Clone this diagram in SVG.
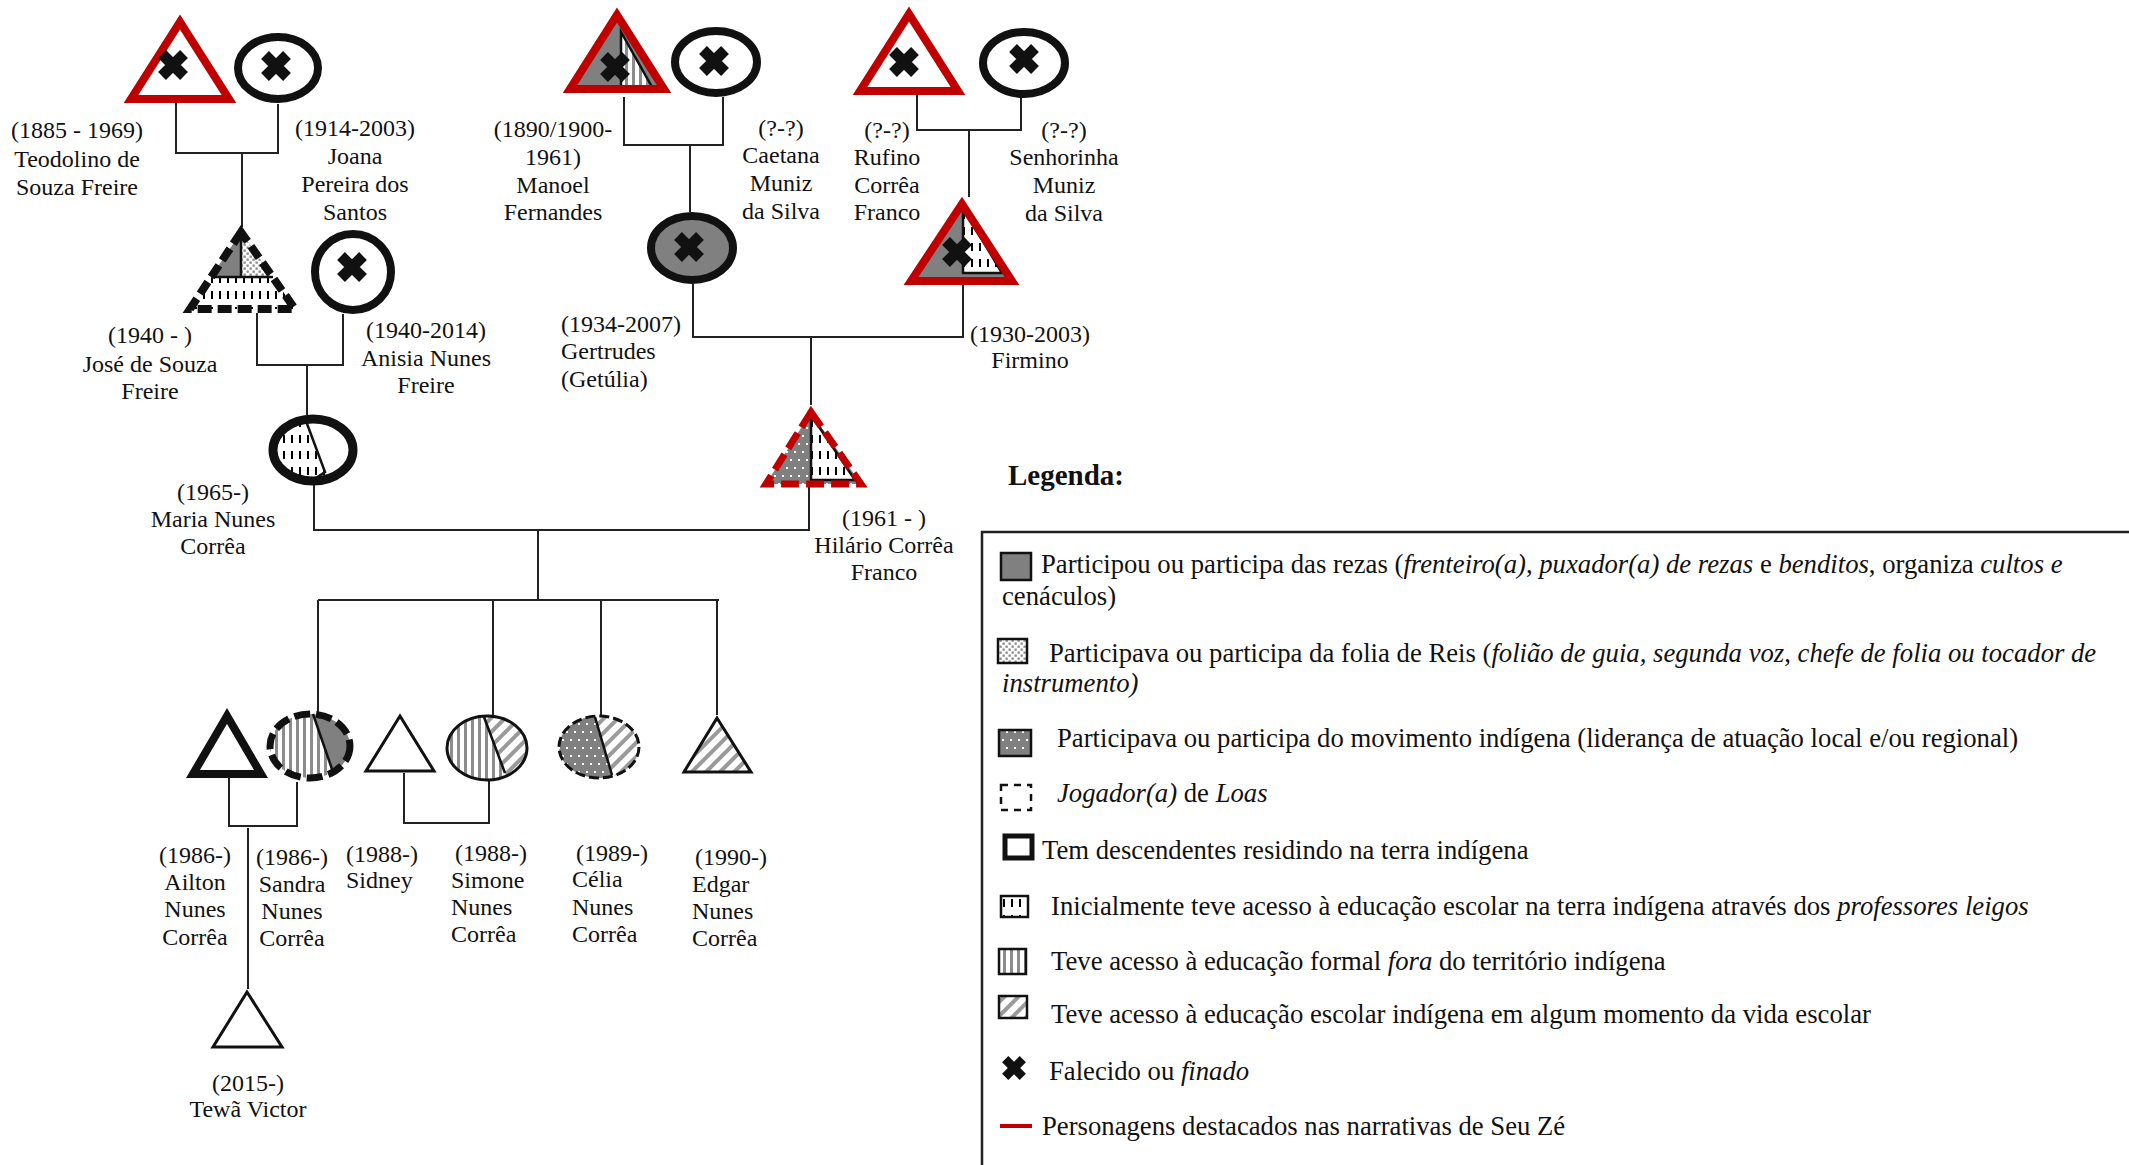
<svg xmlns="http://www.w3.org/2000/svg" width="2129" height="1165" viewBox="0 0 2129 1165">
<style>
.t{font-family:"Liberation Serif","Times New Roman",serif;font-size:24px;fill:#111}
.c{text-anchor:middle}
.lg{font-family:"Liberation Serif","Times New Roman",serif;font-size:26.7px;fill:#111}
.b{font-weight:bold;font-size:29px}
.i{font-style:italic}
.ln{fill:none;stroke:#222;stroke-width:2}
.red{stroke:#c00000;stroke-width:8;stroke-linejoin:miter}
.blk{stroke:#111;stroke-width:8}
.thin{stroke:#111;stroke-width:3}
.div{stroke:#111;stroke-width:2.5}
.sw{stroke:#111;stroke-width:2.5}
</style>
<defs>
<pattern id="pFolia" width="6" height="6" patternUnits="userSpaceOnUse"><rect width="6" height="6" fill="#fff"/><rect x="0.5" y="0.5" width="2.3" height="2.3" fill="#8a8a8a"/><rect x="3.5" y="3.5" width="2.3" height="2.3" fill="#8a8a8a"/></pattern>
<pattern id="pMov" width="8" height="16" patternUnits="userSpaceOnUse"><rect width="8" height="16" fill="#808080"/><rect x="2" y="3" width="2" height="2" fill="#fff"/><rect x="6" y="11" width="2" height="2" fill="#fff"/></pattern>
<pattern id="pLeig" width="8" height="16" patternUnits="userSpaceOnUse"><rect width="8" height="16" fill="#fff"/><rect x="3" y="3" width="2" height="8" fill="#000"/></pattern>
<pattern id="pFora" width="7" height="7" patternUnits="userSpaceOnUse"><rect width="7" height="7" fill="#fff"/><rect x="2" width="3" height="7" fill="#8c8c8c"/></pattern>
<pattern id="pDiag" width="10" height="10" patternUnits="userSpaceOnUse" patternTransform="rotate(45)"><rect width="10" height="10" fill="#fff"/><rect x="3" width="4" height="10" fill="#9a9a9a"/></pattern>
<path id="x" d="M-11,-11L11,11M11,-11L-11,11" stroke="#111" stroke-width="11" fill="none"/>
<clipPath id="cMaria"><ellipse cx="313" cy="450" rx="40" ry="31"/></clipPath>
<clipPath id="cSandra"><ellipse cx="310" cy="746" rx="40" ry="32"/></clipPath>
<clipPath id="cSimone"><ellipse cx="487" cy="748" rx="40" ry="32"/></clipPath>
<clipPath id="cCelia"><ellipse cx="599" cy="747" rx="40" ry="31"/></clipPath>
</defs>

<g id="connectors">
<path class="ln" d="M176,99V153H278V104"/>
<path class="ln" d="M242,153V227"/>
<path class="ln" d="M257,313V365H343V314"/>
<path class="ln" d="M307,365V415"/>
<path class="ln" d="M624,97V145H723V97"/>
<path class="ln" d="M690,145V212"/>
<path class="ln" d="M917,95V130H1021V98"/>
<path class="ln" d="M969,130V197"/>
<path class="ln" d="M693,284V337H963V275"/>
<path class="ln" d="M811,337V405"/>
<path class="ln" d="M314,485V530H809V487"/>
<path class="ln" d="M538,530V600"/>
<path class="ln" d="M318,600H719"/>
<path class="ln" d="M318,600V715M493,600V717M601,600V716M717,600V715"/>
<path class="ln" d="M229,778V826H297V782"/>
<path class="ln" d="M248,828V989"/>
<path class="ln" d="M404,773V823H489V780"/>
</g>

<g id="teodolino">
<polygon points="180,22 131,99 229,99" fill="#fff" class="red"/>
<use href="#x" x="173" y="65"/>
<text class="t c"><tspan x="77" y="138">(1885 - 1969)</tspan><tspan x="77" y="167">Teodolino de</tspan><tspan x="77" y="195">Souza Freire</tspan></text>
</g>
<g id="joana">
<ellipse cx="278" cy="68" rx="40" ry="31" fill="#fff" class="blk"/>
<use href="#x" x="276" y="66"/>
<text class="t c"><tspan x="355" y="136">(1914-2003)</tspan><tspan x="355" y="164">Joana</tspan><tspan x="355" y="192">Pereira dos</tspan><tspan x="355" y="220">Santos</tspan></text>
</g>
<g id="manoel">
<polygon points="617,15 570,89 664,89" fill="#808080"/>
<polygon points="621,32 621,87 652,87" fill="url(#pFora)" class="div"/>
<use href="#x" x="615" y="67"/>
<polygon points="617,15 570,89 664,89" fill="none" class="red"/>
<text class="t c"><tspan x="553" y="137">(1890/1900-</tspan><tspan x="553" y="165">1961)</tspan><tspan x="553" y="193">Manoel</tspan><tspan x="553" y="220">Fernandes</tspan></text>
</g>
<g id="caetana">
<ellipse cx="716" cy="62" rx="41" ry="31" fill="#fff" class="blk"/>
<use href="#x" x="714" y="61"/>
<text class="t c"><tspan x="781" y="136">(?-?)</tspan><tspan x="781" y="163">Caetana</tspan><tspan x="781" y="191">Muniz</tspan><tspan x="781" y="219">da Silva</tspan></text>
</g>
<g id="rufino">
<polygon points="909,14 860,91 958,91" fill="#fff" class="red"/>
<use href="#x" x="904" y="62"/>
<text class="t c"><tspan x="887" y="138">(?-?)</tspan><tspan x="887" y="165">Rufino</tspan><tspan x="887" y="193">Corrêa</tspan><tspan x="887" y="220">Franco</tspan></text>
</g>
<g id="senhorinha">
<ellipse cx="1024" cy="63" rx="41" ry="31" fill="#fff" class="blk"/>
<use href="#x" x="1024" y="59"/>
<text class="t c"><tspan x="1064" y="138">(?-?)</tspan><tspan x="1064" y="165">Senhorinha</tspan><tspan x="1064" y="193">Muniz</tspan><tspan x="1064" y="221">da Silva</tspan></text>
</g>
<g id="jose">
<polygon points="241,232 241,277 211,277" fill="#808080"/>
<polygon points="241,232 273,277 241,277" fill="url(#pFolia)"/>
<polygon points="211,277 273,277 295,309 190,309" fill="url(#pLeig)"/>
<path class="div" fill="none" d="M241,232V277M211,277H273"/>
<polygon points="241,232 190,309 295,309" fill="none" stroke="#111" stroke-width="8" stroke-dasharray="14 6"/>
<text class="t c"><tspan x="150" y="343">(1940 - )</tspan><tspan x="150" y="372">José de Souza</tspan><tspan x="150" y="399">Freire</tspan></text>
</g>
<g id="anisia">
<circle cx="353" cy="272" r="38" fill="#fff" class="blk"/>
<use href="#x" x="352" y="267"/>
<text class="t c"><tspan x="426" y="338">(1940-2014)</tspan><tspan x="426" y="366">Anisia Nunes</tspan><tspan x="426" y="393">Freire</tspan></text>
</g>
<g id="gertrudes">
<ellipse cx="692" cy="248" rx="41" ry="32" fill="#808080" class="blk"/>
<use href="#x" x="689" y="247"/>
<text class="t"><tspan x="561" y="332">(1934-2007)</tspan><tspan x="561" y="359">Gertrudes</tspan><tspan x="561" y="387">(Getúlia)</tspan></text>
</g>
<g id="firmino">
<polygon points="962,204 911,281 1012,281" fill="#808080"/>
<polygon points="963,208 963,273 1002,273" fill="url(#pLeig)" class="div"/>
<use href="#x" x="957" y="252"/>
<polygon points="962,204 911,281 1012,281" fill="none" class="red"/>
<text class="t c"><tspan x="1030" y="342">(1930-2003)</tspan><tspan x="1030" y="368">Firmino</tspan></text>
</g>
<g id="maria">
<ellipse cx="313" cy="450" rx="40" ry="31" fill="#fff"/>
<polygon points="260,410 302,410 332,490 260,490" fill="url(#pLeig)" clip-path="url(#cMaria)"/>
<path class="div" fill="none" d="M306,421L325,472L316,478"/>
<ellipse cx="313" cy="450" rx="40" ry="31" fill="none" stroke="#111" stroke-width="9"/>
<text class="t c"><tspan x="213" y="500">(1965-)</tspan><tspan x="213" y="527">Maria Nunes</tspan><tspan x="213" y="554">Corrêa</tspan></text>
</g>
<g id="hilario">
<polygon points="811,412 766,484 861,484" fill="url(#pMov)"/>
<polygon points="811,415 811,480 855,480" fill="url(#pLeig)" class="div"/>
<polygon points="811,412 766,484 861,484" fill="none" stroke="#c00000" stroke-width="7" stroke-dasharray="18 7"/>
<text class="t c"><tspan x="884" y="526">(1961 - )</tspan><tspan x="884" y="553">Hilário Corrêa</tspan><tspan x="884" y="580">Franco</tspan></text>
</g>
<g id="ailton">
<polygon points="227,716 193,774 261,774" fill="#fff" stroke="#111" stroke-width="8"/>
<text class="t c"><tspan x="195" y="863">(1986-)</tspan><tspan x="195" y="890">Ailton</tspan><tspan x="195" y="917">Nunes</tspan><tspan x="195" y="945">Corrêa</tspan></text>
</g>
<g id="sandra">
<g clip-path="url(#cSandra)">
<polygon points="260,700 307.6,700 339.9,790 260,790" fill="url(#pFora)"/>
<polygon points="307.6,700 360,700 360,790 339.9,790" fill="#808080"/>
</g>
<path class="div" fill="none" d="M313,714L333,772"/>
<ellipse cx="310" cy="746" rx="40" ry="32" fill="none" stroke="#111" stroke-width="7" stroke-dasharray="16 6"/>
<text class="t c"><tspan x="292" y="865">(1986-)</tspan><tspan x="292" y="892">Sandra</tspan><tspan x="292" y="919">Nunes</tspan><tspan x="292" y="946">Corrêa</tspan></text>
</g>
<g id="sidney">
<polygon points="400,716 366,771 434,771" fill="#fff" class="thin"/>
<text class="t"><tspan x="346" y="862">(1988-)</tspan><tspan x="346" y="888">Sidney</tspan></text>
</g>
<g id="simone">
<g clip-path="url(#cSimone)">
<polygon points="440,710 481.4,710 511.4,790 440,790" fill="url(#pFora)"/>
<polygon points="481.4,710 535,710 535,790 511.4,790" fill="url(#pDiag)"/>
</g>
<path class="div" fill="none" d="M484,717L505,773"/>
<ellipse cx="487" cy="748" rx="40" ry="32" fill="none" class="thin"/>
<text class="t"><tspan x="455" y="861">(1988-)</tspan><tspan x="451" y="888">Simone</tspan><tspan x="451" y="915">Nunes</tspan><tspan x="451" y="942">Corrêa</tspan></text>
</g>
<g id="celia">
<g clip-path="url(#cCelia)">
<polygon points="550,710 592.9,710 616.4,790 550,790" fill="url(#pMov)"/>
<polygon points="592.9,710 645,710 645,790 616.4,790" fill="url(#pDiag)"/>
</g>
<path class="div" fill="none" d="M595,717L612,775"/>
<ellipse cx="599" cy="747" rx="40" ry="31" fill="none" stroke="#111" stroke-width="3" stroke-dasharray="10 4"/>
<text class="t"><tspan x="576" y="861">(1989-)</tspan><tspan x="572" y="887">Célia</tspan><tspan x="572" y="915">Nunes</tspan><tspan x="572" y="942">Corrêa</tspan></text>
</g>
<g id="edgar">
<polygon points="717,718 684,772 751,772" fill="url(#pDiag)" class="thin"/>
<text class="t"><tspan x="695" y="865">(1990-)</tspan><tspan x="692" y="892">Edgar</tspan><tspan x="692" y="919">Nunes</tspan><tspan x="692" y="946">Corrêa</tspan></text>
</g>
<g id="tewa">
<polygon points="247,992 213,1047 282,1047" fill="#fff" class="thin"/>
<text class="t c"><tspan x="248" y="1091">(2015-)</tspan><tspan x="248" y="1117">Tewã Victor</tspan></text>
</g>

<g id="legend">
<text class="lg b" x="1008" y="485">Legenda:</text>
<path d="M982,1165V532H2129" fill="none" stroke="#222" stroke-width="2.5"/>
<rect x="1001" y="553" width="30" height="27" fill="#808080" class="sw"/>
<text class="lg"><tspan x="1041" y="573">Participou ou participa das rezas (<tspan class="i">frenteiro(a)</tspan>, <tspan class="i">puxador(a) de rezas</tspan> e <tspan class="i">benditos</tspan>, organiza <tspan class="i">cultos e</tspan></tspan><tspan x="1002" y="605">cenáculos)</tspan></text>
<rect x="998" y="639" width="29" height="24" fill="url(#pFolia)" class="sw"/>
<text class="lg"><tspan x="1049" y="662">Participava ou participa da folia de Reis (<tspan class="i">folião de guia, segunda voz</tspan>, <tspan class="i">chefe de folia ou tocador de</tspan></tspan><tspan x="1002" y="692" class="i">instrumento)</tspan></text>
<rect x="999" y="730" width="32" height="26" fill="url(#pMov)" class="sw"/>
<text class="lg" x="1057" y="747">Participava ou participa do movimento indígena (liderança de atuação local e/ou regional)</text>
<rect x="1001" y="785" width="30" height="25" fill="none" stroke="#111" stroke-width="2.5" stroke-dasharray="7 6"/>
<text class="lg" x="1057" y="802"><tspan class="i">Jogador(a)</tspan> de <tspan class="i">Loas</tspan></text>
<rect x="1005" y="836" width="27" height="22" fill="#fff" stroke="#111" stroke-width="5"/>
<text class="lg" x="1042" y="859">Tem descendentes residindo na terra indígena</text>
<rect x="1001" y="896" width="27" height="21" fill="url(#pLeig)" class="sw"/>
<text class="lg" x="1051" y="915">Inicialmente teve acesso à educação escolar na terra indígena através dos <tspan class="i">professores leigos</tspan></text>
<rect x="999" y="949" width="27" height="25" fill="url(#pFora)" class="sw"/>
<text class="lg" x="1051" y="970">Teve acesso à educação formal <tspan class="i">fora</tspan> do território indígena</text>
<rect x="999" y="996" width="28" height="22" fill="url(#pDiag)" class="sw"/>
<text class="lg" x="1051" y="1023">Teve acesso à educação escolar indígena em algum momento da vida escolar</text>
<use href="#x" transform="translate(1014,1068) scale(0.8)"/>
<text class="lg" x="1049" y="1080">Falecido ou <tspan class="i">finado</tspan></text>
<line x1="1000" y1="1126" x2="1032" y2="1126" stroke="#c00000" stroke-width="4"/>
<text class="lg" x="1042" y="1135">Personagens destacados nas narrativas de Seu Zé</text>
</g>
</svg>
